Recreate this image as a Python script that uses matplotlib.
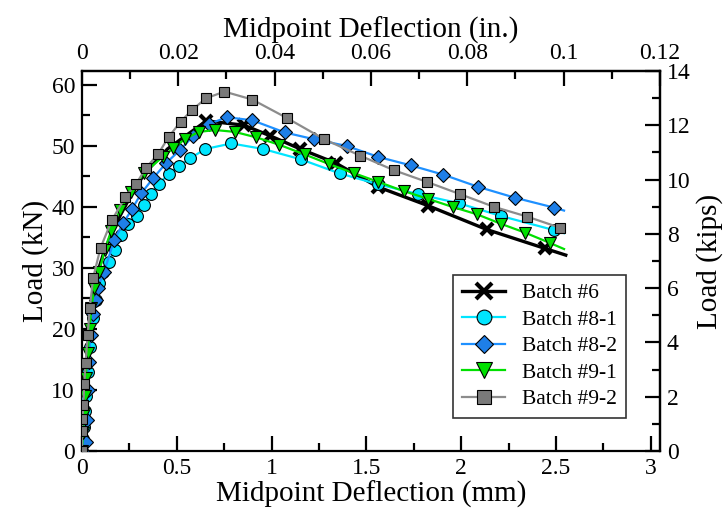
import numpy as np
import matplotlib
matplotlib.use("Agg")
from matplotlib import pyplot as plt
from matplotlib.ticker import MultipleLocator, FixedLocator

plt.rcParams['font.family'] = ['Liberation Serif', 'DejaVu Serif']

# load (kN) vs midpoint deflection (mm) for each batch
b6_x = [0.0, 0.004, 0.01, 0.016, 0.024, 0.034, 0.046, 0.062, 0.085, 0.115, 0.155,
        0.2, 0.26, 0.33, 0.451, 0.656, 0.853, 0.989, 1.151, 1.337, 1.559, 1.825,
        2.134, 2.441, 2.551]
b6_y = [0.0, 3.0, 6.5, 10.0, 14.0, 18.0, 22.0, 26.0, 29.5, 32.5, 35.5,
        38.5, 42.0, 45.5, 49.5, 54.1, 53.4, 51.7, 49.5, 47.2, 43.3, 40.2,
        36.3, 33.2, 32.1]
b6_marks = [15, 16, 17, 18, 19, 20, 21, 22, 23]

b81_x = [0.0, 0.005, 0.01, 0.015, 0.02, 0.03, 0.04, 0.056, 0.074, 0.09, 0.109,
         0.14, 0.175, 0.205, 0.244, 0.288, 0.326, 0.363, 0.405, 0.458, 0.512,
         0.572, 0.651, 0.788, 0.955, 1.154, 1.358, 1.563, 1.772, 1.987, 2.211,
         2.489, 2.542]
b81_y = [0.0, 2.0, 4.0, 6.5, 9.0, 13.0, 17.0, 21.8, 24.8, 27.5, 29.4,
         31.0, 33.0, 35.4, 37.2, 38.5, 40.3, 42.1, 43.8, 45.4, 46.7,
         48.0, 49.5, 50.4, 49.5, 47.8, 45.5, 43.7, 42.1, 40.6, 38.5,
         36.2, 35.7]

b82_x = [0.0, 0.02, 0.025, 0.03, 0.035, 0.045, 0.06, 0.074, 0.083, 0.117, 0.17,
         0.217, 0.265, 0.312, 0.375, 0.444, 0.516, 0.586, 0.67, 0.765, 0.898,
         1.07, 1.223, 1.395, 1.562, 1.735, 1.904, 2.088, 2.284, 2.488, 2.542]
b82_y = [0.0, 1.5, 5.0, 10.0, 14.6, 19.0, 22.5, 24.8, 26.7, 29.4, 34.6,
         37.3, 39.7, 42.2, 44.7, 47.2, 49.3, 51.6, 53.6, 54.7, 54.2,
         52.2, 51.1, 50.0, 48.2, 46.8, 45.3, 43.3, 41.5, 39.9, 39.4]

b91_x = [0.0, 0.005, 0.01, 0.015, 0.02, 0.03, 0.04, 0.05, 0.065, 0.091, 0.12,
         0.153, 0.2, 0.26, 0.326, 0.425, 0.481, 0.542, 0.616, 0.704, 0.805,
         0.919, 1.039, 1.174, 1.305, 1.437, 1.563, 1.696, 1.827, 1.954, 2.082,
         2.212, 2.335, 2.467, 2.542]
b91_y = [0.0, 3.0, 6.0, 9.0, 12.0, 16.0, 20.0, 23.5, 26.7, 29.4, 33.0,
         36.0, 39.5, 42.5, 45.5, 48.2, 49.6, 51.1, 52.3, 52.6, 52.3,
         51.4, 50.2, 48.6, 47.0, 45.5, 44.1, 42.6, 41.3, 40.0, 38.8,
         37.2, 35.8, 34.1, 33.1]

b92_x = [0.0, 0.0, 0.002, 0.007, 0.012, 0.019, 0.03, 0.041, 0.059, 0.098, 0.157,
         0.229, 0.286, 0.338, 0.402, 0.458, 0.521, 0.581, 0.654, 0.751, 0.898,
         1.079, 1.277, 1.467, 1.646, 1.819, 1.993, 2.174, 2.349, 2.519, 2.54]
b92_y = [0.0, 3.2, 5.2, 7.5, 11.0, 14.4, 19.0, 23.4, 28.4, 33.3, 37.8,
         41.6, 43.8, 46.4, 48.7, 51.5, 54.0, 55.9, 57.8, 58.9, 57.6,
         54.6, 51.1, 48.4, 46.0, 44.1, 42.1, 40.0, 38.4, 36.6, 36.4]

KN_PER_KIP = 4.448222
MM_PER_IN = 25.4

fig = plt.figure(figsize=(7.28, 5.21), dpi=100)
ax = fig.add_axes([0.1126, 0.1344, 0.7940, 0.7293])

ax.plot(b6_x, b6_y, color='black', lw=2.4, marker='x', ms=9, mew=3,
        markevery=b6_marks, label='Batch #6', zorder=3)
ax.plot(b81_x, b81_y, color='#00E5FF', lw=1.6, marker='o', ms=8.5,
        mfc='#00E5FF', mec='black', mew=0.8, markevery=list(range(len(b81_x) - 1)),
        label='Batch #8-1', zorder=4)
ax.plot(b82_x, b82_y, color='#1E90FF', lw=1.6, marker='D', ms=7.5,
        mfc='#1E7FE8', mec='black', mew=0.8, markevery=list(range(len(b82_x) - 1)),
        label='Batch #8-2', zorder=5)
ax.plot(b91_x, b91_y, color='#00E000', lw=1.6, marker='v', ms=9,
        mfc='#00E000', mec='black', mew=0.8, markevery=list(range(len(b91_x) - 1)),
        label='Batch #9-1', zorder=6)
ax.plot(b92_x, b92_y, color='#8C8C8C', lw=1.6, marker='s', ms=7.5,
        mfc='#7A7A7A', mec='black', mew=0.8, markevery=list(range(len(b92_x) - 1)),
        label='Batch #9-2', zorder=7)

ax.set_xlim(0, 0.12 * MM_PER_IN)
ax.set_ylim(0, 14 * KN_PER_KIP)
ax.xaxis.set_major_locator(MultipleLocator(0.5))
ax.xaxis.set_minor_locator(MultipleLocator(0.25))
ax.yaxis.set_major_locator(MultipleLocator(10))
ax.yaxis.set_minor_locator(MultipleLocator(5))
ax.xaxis.set_major_formatter(plt.FuncFormatter(lambda v, p: f'{v:g}'))

ax.set_xlabel('Midpoint Deflection (mm)', fontsize=21, labelpad=1)
ax.set_ylabel('Load (kN)', fontsize=21, labelpad=2)

# secondary axes in US units; ticks kept inside the visible range
top = ax.secondary_xaxis('top', functions=(lambda x: x / MM_PER_IN, lambda x: x * MM_PER_IN))
top.xaxis.set_major_locator(FixedLocator(np.arange(0, 0.121, 0.02)))
top.xaxis.set_minor_locator(FixedLocator(np.arange(0, 0.121, 0.01)))
top.xaxis.set_major_formatter(plt.FuncFormatter(lambda v, p: f'{v:.2f}'.rstrip('0').rstrip('.') if v else '0'))
top.set_xlabel('Midpoint Deflection (in.)', fontsize=21, labelpad=4)

right = ax.secondary_yaxis('right', functions=(lambda y: y / KN_PER_KIP, lambda y: y * KN_PER_KIP))
right.yaxis.set_major_locator(FixedLocator(np.arange(0, 14.1, 2)))
right.yaxis.set_minor_locator(FixedLocator(np.arange(0, 14.1, 1)))
right.yaxis.set_major_formatter(plt.FuncFormatter(lambda v, p: f'{v:g}'))
right.set_ylabel('Load (kips)', fontsize=21, labelpad=4)

for a in (ax, top, right):
    a.tick_params(which='major', direction='in', length=11, width=1.6, labelsize=17, pad=5)
    a.tick_params(which='minor', direction='in', length=6, width=1.6)
ax.tick_params(which='both', top=False, right=False)
for s in ax.spines.values():
    s.set_linewidth(1.6)
top.spines['top'].set_linewidth(1.6)
right.spines['right'].set_linewidth(1.6)

leg = ax.legend(loc='lower right', bbox_to_anchor=(0.941, 0.087), borderaxespad=0,
                fontsize=15.5, frameon=True, fancybox=False, edgecolor='black',
                handlelength=2.0, borderpad=0.4, labelspacing=0.3, handletextpad=0.8,
                markerscale=1.25)
leg.get_frame().set_linewidth(1.2)

fig.savefig('out.png', dpi=100)
